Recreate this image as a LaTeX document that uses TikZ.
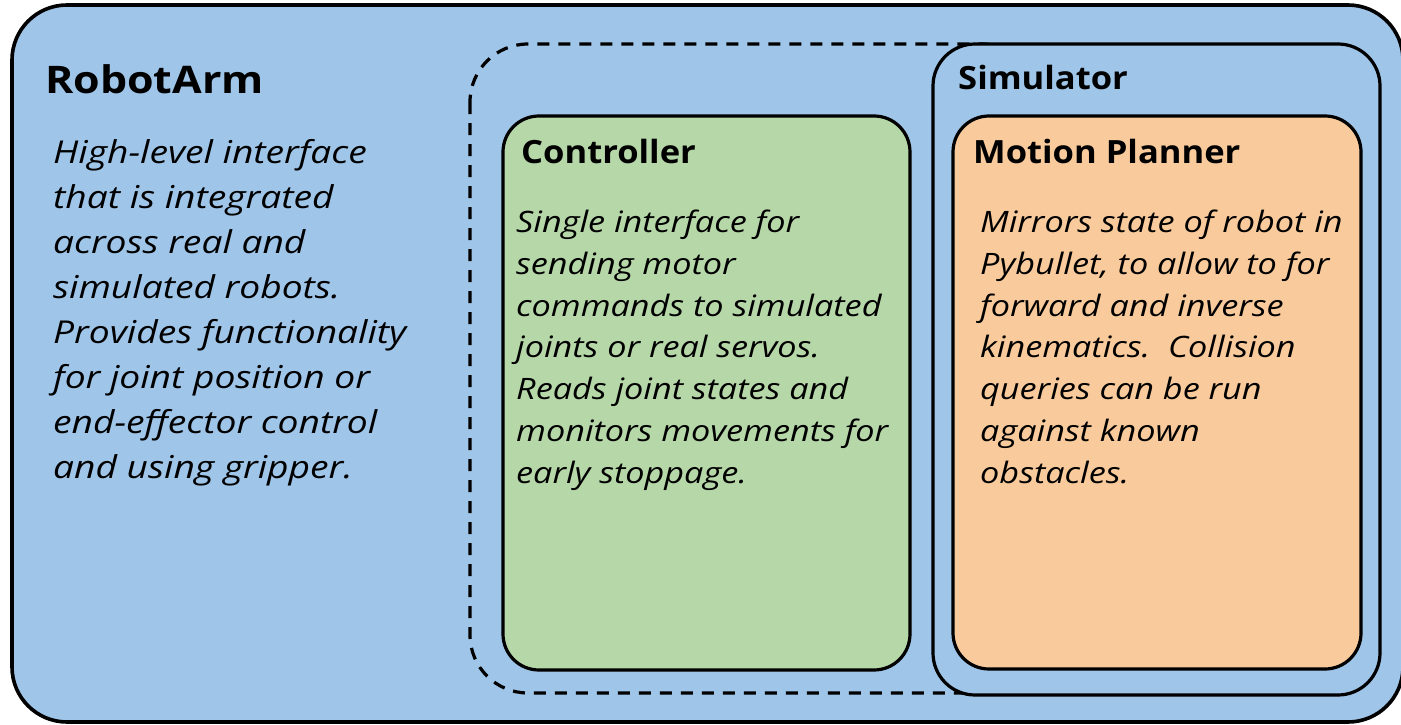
\documentclass[tikz,border=0pt]{standalone}
\usepackage{fontspec}
\setmainfont{Open Sans}
\newfontfamily\armfont[FakeStretch=1.18]{Open Sans}
\newfontfamily\bodyfont[FakeStretch=1.16]{Open Sans}
\newfontfamily\headfont[FakeStretch=1.08]{Open Sans}
\newfontfamily\bigheadfont[FakeStretch=1.13]{Open Sans}
\definecolor{armblue}{HTML}{9FC5E8}
\definecolor{ctrlgreen}{HTML}{B6D7A8}
\definecolor{planorange}{HTML}{F9CB9C}
\tikzset{
  boxline/.style={draw=black, line width=3.2pt},
  titletext/.style={anchor=base west, inner sep=0pt, font=\headfont\fontsize{32}{42}\selectfont\bfseries},
  bigtitle/.style={anchor=base west, inner sep=0pt, font=\bigheadfont\fontsize{38}{48}\selectfont\bfseries},
  armbody/.style={anchor=base west, inner sep=0pt, align=left, font=\armfont\fontsize{31.5}{45}\selectfont\itshape},
  bodytext/.style={anchor=base west, inner sep=0pt, align=left, font=\bodyfont\fontsize{29.5}{41.67}\selectfont\itshape},
}
\begin{document}
\begin{tikzpicture}[x=1pt,y=-1pt]
\useasboundingbox (0,0) rectangle (1401,725);
\clip (0,0) rectangle (1401,725);
% outer RobotArm box
\path[boxline, line width=3.6pt, fill=armblue, rounded corners=55pt] (12,5) rectangle (1403,722);
% dashed group
\path[boxline, dash pattern=on 12pt off 9pt, rounded corners=58pt] (470,44) rectangle (1040,693);
% simulator
\path[boxline, fill=armblue, rounded corners=42pt] (933,44) rectangle (1380,695);
% controller
\path[boxline, fill=ctrlgreen, rounded corners=36pt] (503,116) rectangle (910,670);
% motion planner
\path[boxline, fill=planorange, rounded corners=36pt] (953,116) rectangle (1361,669);

\node[bigtitle] (armtitle) at (45,93) {RobotArm};
\node[armbody] (armtext) at (53,478) {High-level interface\\that is integrated\\across real and\\simulated robots.\\Provides functionality\\for joint position or\\end-effector control\\and using gripper.};

\node[titletext] (simtitle) at (958,90) {Simulator};
\node[titletext] (ctrltitle) at (521,163) {Controller};
\node[titletext] (plantitle) at (973,163) {Motion Planner};

\node[bodytext] (ctrltext) at (516,483) {Single interface for\\sending motor\\commands to simulated\\joints or real servos.\\Reads joint states and\\monitors movements for\\early stoppage.};
\node[bodytext] (plantext) at (980,483) {Mirrors state of robot in\\Pybullet, to allow to for\\forward and inverse\\kinematics.\ \ Collision\\queries can be run\\against known\\obstacles.};
\end{tikzpicture}
\end{document}
